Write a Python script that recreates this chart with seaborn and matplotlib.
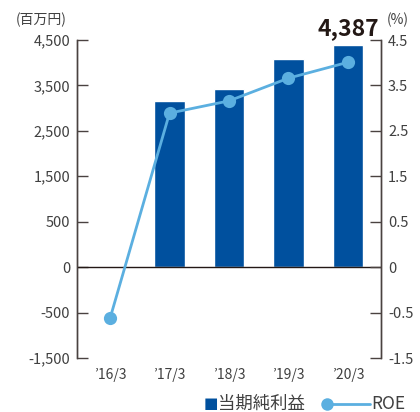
import numpy as np
import pandas as pd
import matplotlib
matplotlib.use("Agg")
import matplotlib.pyplot as plt
import seaborn as sns
from matplotlib.lines import Line2D

# ---- data -------------------------------------------------------------
periods = ["’16/3", "’17/3", "’18/3", "’19/3", "’20/3"]
net_income = [np.nan, 3160, 3420, 4080, 4387]          # 当期純利益（百万円）
roe = [-0.63, 2.89, 3.16, 3.66, 4.01]                  # ROE (%)

income_ticks = [-1500, -500, 0, 500, 1500, 2500, 3500, 4500]
income_tick_labels = ["-1,500", "-500", "0", "500", "1,500", "2,500", "3,500", "4,500"]
roe_ticks = [-1.5, -0.5, 0, 0.5, 1.5, 2.5, 3.5, 4.5]
roe_tick_labels = ["-1.5", "-0.5", "0", "0.5", "1.5", "2.5", "3.5", "4.5"]

highlight_label = "4,387"

# ---- style ------------------------------------------------------------
sns.set_style("white")
plt.rcParams["font.family"] = ["Noto Sans CJK JP", "DejaVu Sans"]

BAR = "#00509E"
LINE = "#5BAFE0"
AXIS = "#4a4240"
TEXT = "#404040"
DARK = "#231815"


def stepped_scale(ticks):
    """Axis scale where every tick interval gets the same height."""
    t = np.asarray(ticks, float)
    p = np.arange(len(t), dtype=float)

    def fwd(v):
        v = np.asarray(v, float)
        out = np.interp(v, t, p)
        out = np.where(v < t[0], p[0] + (v - t[0]) / (t[1] - t[0]), out)
        out = np.where(v > t[-1], p[-1] + (v - t[-1]) / (t[-1] - t[-2]), out)
        return out

    def inv(q):
        q = np.asarray(q, float)
        out = np.interp(q, p, t)
        out = np.where(q < p[0], t[0] + (q - p[0]) * (t[1] - t[0]), out)
        out = np.where(q > p[-1], t[-1] + (q - p[-1]) * (t[-1] - t[-2]), out)
        return out

    return fwd, inv


df = pd.DataFrame({"period": periods, "net_income": net_income, "roe": roe})

fig = plt.figure(figsize=(4.2, 4.12), dpi=100)
W, H = 420, 412
ax = fig.add_axes([77 / W, 1 - 358 / H, (381 - 77) / W, (358 - 40) / H])

ax.set_yscale("function", functions=stepped_scale(income_ticks))

sns.barplot(data=df, x="period", y="net_income", order=periods, color=BAR,
            saturation=1, width=0.52, errorbar=None, ax=ax, zorder=2)

ax.set_ylim(income_ticks[0], income_ticks[-1])
ax.set_yticks(income_ticks, income_tick_labels)
ax.set_xticks(range(len(periods)), periods)
ax.set_xlabel("")
ax.set_ylabel("")
ax.axhline(0, color=DARK, lw=1.0, zorder=3)

# ROE line on the right axis
ax2 = ax.twinx()
ax2.set_yscale("function", functions=stepped_scale(roe_ticks))
sns.lineplot(x=np.arange(len(periods)), y=df["roe"], ax=ax2, color=LINE,
             linewidth=2.0, marker="o", markersize=9.5, markeredgewidth=0,
             zorder=4)
ax2.set_ylim(roe_ticks[0], roe_ticks[-1])
ax2.set_yticks(roe_ticks, roe_tick_labels)
ax2.set_ylabel("")
ax.set_xlim(-0.555, len(periods) - 1 + 0.555)

for a in (ax, ax2):
    for side in ("top", "bottom"):
        a.spines[side].set_visible(False)
    for side in ("left", "right"):
        a.spines[side].set_color(AXIS)
        a.spines[side].set_linewidth(1.0)

ax.tick_params(axis="y", direction="in", length=8, width=1.0, color=AXIS,
               pad=5, labelsize=10.5, labelcolor=TEXT)
ax2.tick_params(axis="y", direction="in", length=8, width=1.0, color=AXIS,
                pad=5, labelsize=10.5, labelcolor=TEXT)
ax.tick_params(axis="x", length=0, pad=7, labelsize=10, labelcolor=TEXT)

# value label on the latest bar
last = len(periods) - 1
ax.annotate(highlight_label, xy=(last, net_income[last]), xytext=(0, 7),
            textcoords="offset points", ha="center", va="baseline",
            fontsize=16.5, fontweight="bold", color=DARK)

# unit captions
fig.text(16 / W, 1 - 20 / H, "(百万円)", ha="left", va="center",
         fontsize=10, color=TEXT)
fig.text(387 / W, 1 - 20 / H, "(%)", ha="left", va="center",
         fontsize=10, color=TEXT)

# legend
ly = 1 - 404 / H
fig.text(204 / W, ly, "■", ha="left", va="center", fontsize=11, color=BAR,
         family=["DejaVu Sans"])
fig.text(218 / W, ly, "当期純利益", ha="left", va="center", fontsize=12.5,
         color=TEXT)
fig.add_artist(Line2D([327 / W, 370 / W], [ly, ly], color=LINE, lw=2.0,
                      transform=fig.transFigure))
fig.add_artist(Line2D([327 / W], [ly], color=LINE, marker="o", markersize=9,
                      markeredgewidth=0, transform=fig.transFigure))
fig.text(371 / W, ly, "ROE", ha="left", va="center", fontsize=12.5,
         color=TEXT)

fig.savefig("out.png", dpi=100)
